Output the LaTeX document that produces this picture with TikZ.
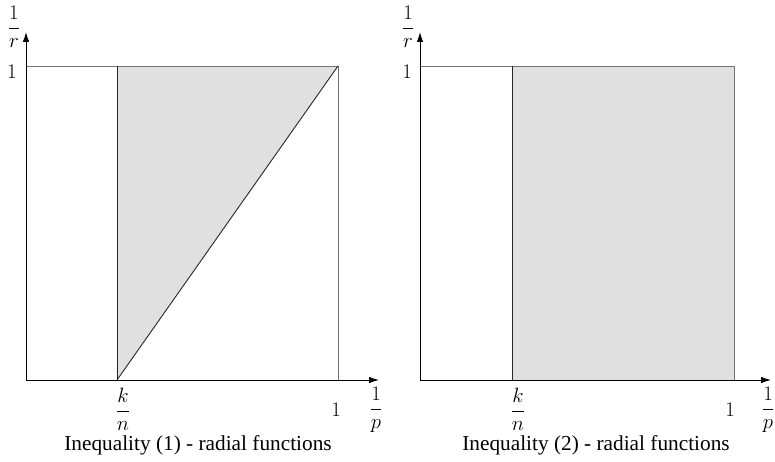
\documentclass[tikz,border=0pt]{standalone}
\usepackage[no-math]{fontspec}
\setmainfont{Liberation Serif}
\usetikzlibrary{arrows.meta}
\begin{document}
\begin{tikzpicture}[x=1pt,y=1pt,
  lbl/.style={inner sep=0pt, font=\fontsize{20}{24}\selectfont},
  captiontext/.style={inner sep=0pt, anchor=base, font=\fontsize{21.3}{25}\selectfont},
  axis/.style={line width=0.9pt, -{Latex[length=10pt,width=6.5pt]}},
  frame/.style={draw=black!55, line width=0.9pt},
  edge/.style={draw=black!85, line width=0.9pt},
  region/.style={fill=black!12}]
\useasboundingbox (0,0) rectangle (775,461);
% ---------- left plot ----------
\coordinate (Ao) at (26,81);
\coordinate (Ay) at (26,429);
\coordinate (Ax) at (379,81);
\coordinate (Ak) at (117,81);
\coordinate (Akt) at (117,395);
\coordinate (At) at (26,395);
\coordinate (Ar) at (338,395);
\coordinate (Ab) at (338,81);
\fill[region] (Ak) -- (Akt) -- (Ar) -- cycle;
\draw[frame] (At) -- (Ar) -- (Ab);
\draw[edge] (Ak) -- (Akt);
\draw[edge] (Ak) -- (Ar);
\draw[axis] (Ao) -- (Ay);
\draw[axis] (Ao) -- (Ax);
\node[lbl] (Alr) at (14,434) {$\displaystyle\frac{1}{r}$};
\node[lbl] (Aly) at (12,389) {$1$};
\node[lbl] (Alk) at (123,52) {$\displaystyle\frac{k}{n}$};
\node[lbl] (Alx) at (336,51) {$1$};
\node[lbl] (Alp) at (376,51) {$\displaystyle\frac{1}{p}$};
\node[captiontext] (Acap) at (198,11) {Inequality (1) - radial functions};
% ---------- right plot ----------
\coordinate (Bo) at (420,81);
\coordinate (By) at (420,429);
\coordinate (Bx) at (771,81);
\coordinate (Bk) at (512,81);
\coordinate (Bkt) at (512,395);
\coordinate (Bt) at (420,395);
\coordinate (Br) at (734,395);
\coordinate (Bb) at (734,81);
\fill[region] (Bk) rectangle (Br);
\draw[frame] (Bt) -- (Br) -- (Bb);
\draw[edge] (Bk) -- (Bkt);
\draw[axis] (Bo) -- (By);
\draw[axis] (Bo) -- (Bx);
\node[lbl] (Blr) at (408,434) {$\displaystyle\frac{1}{r}$};
\node[lbl] (Bly) at (407,389) {$1$};
\node[lbl] (Blk) at (518,52) {$\displaystyle\frac{k}{n}$};
\node[lbl] (Blx) at (730,51) {$1$};
\node[lbl] (Blp) at (768,51) {$\displaystyle\frac{1}{p}$};
\node[captiontext] (Bcap) at (596,11) {Inequality (2) - radial functions};
\end{tikzpicture}
\end{document}
